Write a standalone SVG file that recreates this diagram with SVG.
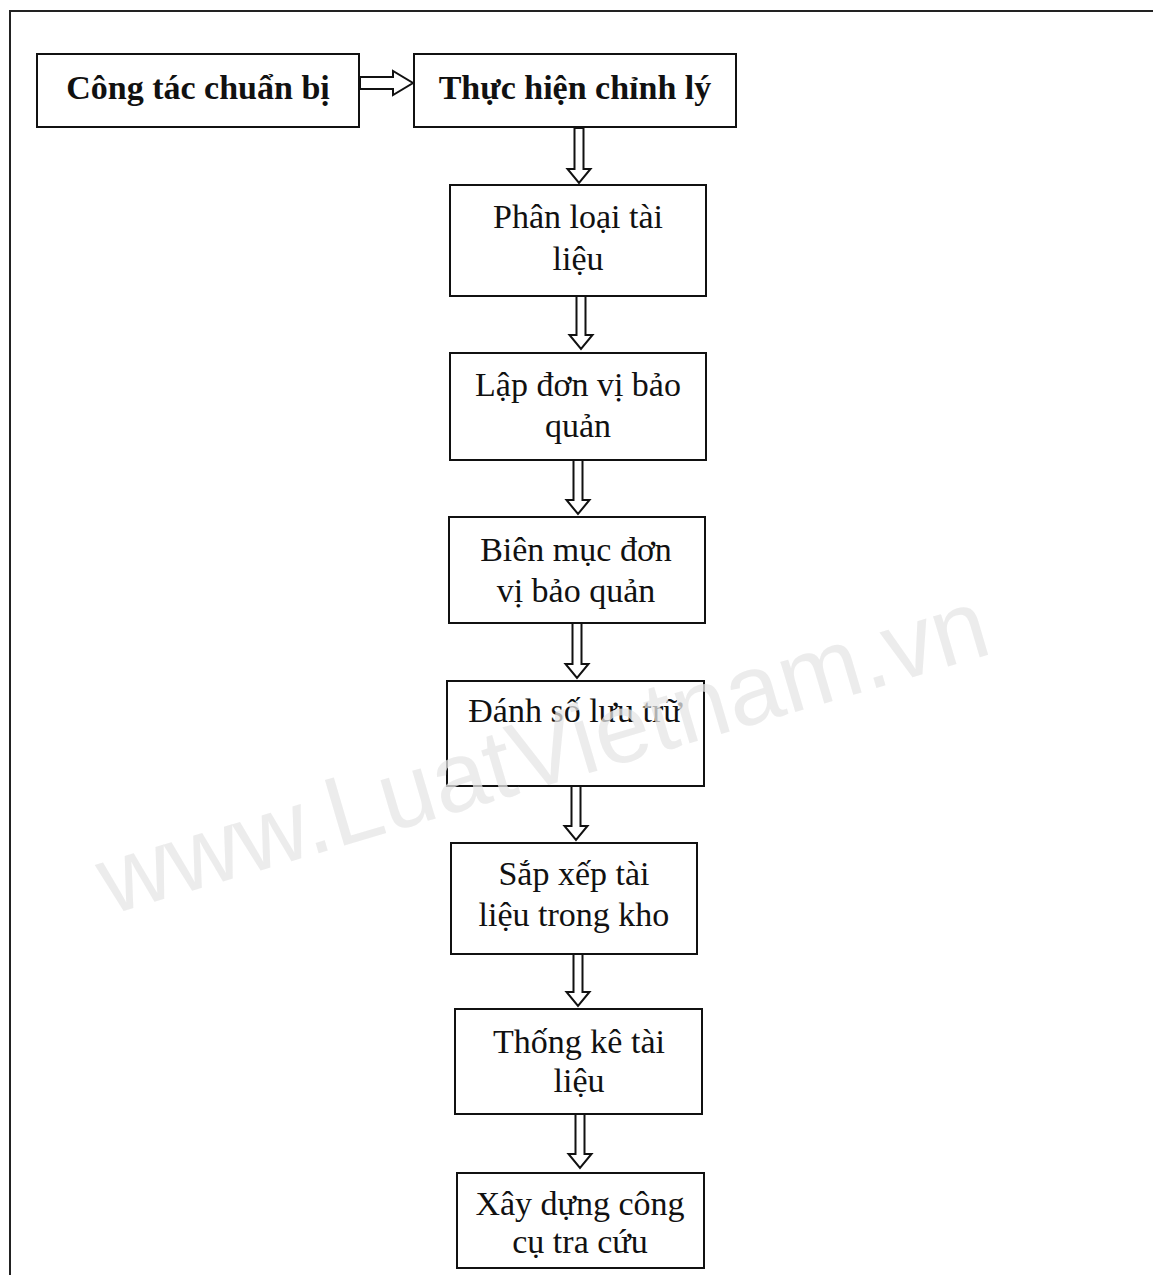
<svg xmlns="http://www.w3.org/2000/svg" width="1153" height="1275" viewBox="0 0 1153 1275">
<style>
.box{fill:#fff;stroke:#111;stroke-width:2}
.arr{fill:#fff;stroke:#111;stroke-width:2;stroke-linejoin:miter}
.t{font-family:"Liberation Serif","Times New Roman",serif;font-size:34px;fill:#111;text-anchor:middle}
.b{font-weight:bold;font-size:34px}
.wm{font-family:"Liberation Sans",Arial,sans-serif;font-size:99px;fill:#e6e6e6;fill-opacity:0.75;text-anchor:middle}
</style>
<rect width="1153" height="1275" fill="#fff"/>
<g id="frame" fill="none" stroke="#222" stroke-width="2">
<path d="M10,1275 V11 H1153"/>
</g>
<g id="connectors">
<path class="arr" d="M360,77 H393 V71 L413,83 L393,95 V89 H360 Z"/>
<path class="arr" d="M574.5,128 V169 H567.5 L579,183 L590.5,169 H583.5 V128 Z"/>
<path class="arr" d="M576.5,296 V335 H569.5 L581,349 L592.5,335 H585.5 V296 Z"/>
<path class="arr" d="M573.5,460 V500 H566.5 L578,514 L589.5,500 H582.5 V460 Z"/>
<path class="arr" d="M572.5,623 V664 H565.5 L577,678 L588.5,664 H581.5 V623 Z"/>
<path class="arr" d="M571.5,786 V826 H564.5 L576,840 L587.5,826 H580.5 V786 Z"/>
<path class="arr" d="M573.5,954 V992 H566.5 L578,1006 L589.5,992 H582.5 V954 Z"/>
<path class="arr" d="M575.5,1114 V1154 H568.5 L580,1168 L591.5,1154 H584.5 V1114 Z"/>
</g>
<g id="n1"><rect class="box" x="37" y="54" width="322" height="73"/><text class="t b" x="198" y="99">Công tác chuẩn bị</text></g>
<g id="n2"><rect class="box" x="414" y="54" width="322" height="73"/><text class="t b" x="575" y="99">Thực hiện chỉnh lý</text></g>
<g id="n3"><rect class="box" x="450" y="185" width="256" height="111"/><text class="t" x="578" y="228">Phân loại tài</text><text class="t" x="578" y="270">liệu</text></g>
<g id="n4"><rect class="box" x="450" y="353" width="256" height="107"/><text class="t" x="578" y="396">Lập đơn vị bảo</text><text class="t" x="578" y="437">quản</text></g>
<g id="n5"><rect class="box" x="449" y="517" width="256" height="106"/><text class="t" x="576" y="561">Biên mục đơn</text><text class="t" x="576" y="602">vị bảo quản</text></g>
<g id="n6"><rect class="box" x="447" y="681" width="257" height="105"/><text class="t" x="575" y="722">Đánh số lưu trữ</text></g>
<g id="n7"><rect class="box" x="451" y="843" width="246" height="111"/><text class="t" x="574" y="885">Sắp xếp tài</text><text class="t" x="574" y="926">liệu trong kho</text></g>
<g id="n8"><rect class="box" x="455" y="1009" width="247" height="105"/><text class="t" x="579" y="1053">Thống kê tài</text><text class="t" x="579" y="1092">liệu</text></g>
<g id="n9"><rect class="box" x="457" y="1173" width="247" height="95"/><text class="t" x="580" y="1215">Xây dựng công</text><text class="t" x="580" y="1253">cụ tra cứu</text></g>
<text class="wm" transform="translate(552,784) rotate(-16.5)">www.LuatVietnam.vn</text>
</svg>
